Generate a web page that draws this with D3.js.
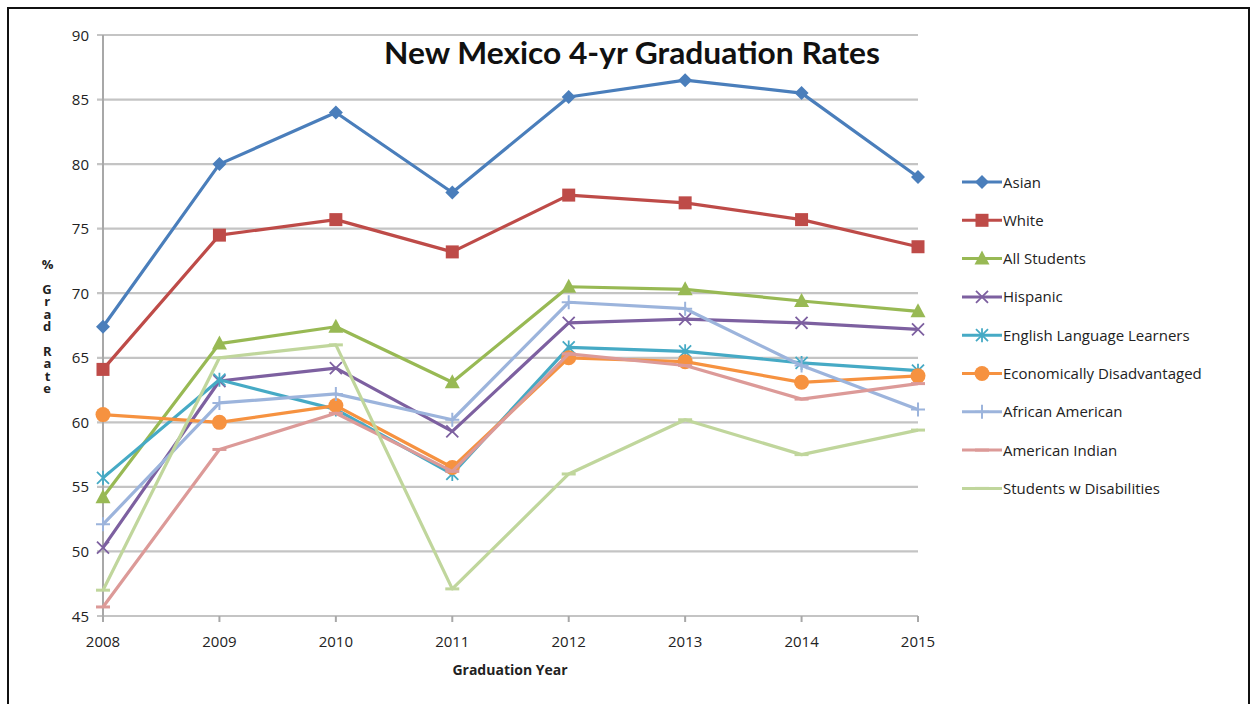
<!DOCTYPE html>
<html><head><meta charset="utf-8">
<script src="https://cdn.jsdelivr.net/npm/d3@7"></script>
<style>body{margin:0;background:#fff;}svg{display:block;}</style>
</head><body><svg id="c" width="1255" height="704"></svg>
<script>
const years = [2008, 2009, 2010, 2011, 2012, 2013, 2014, 2015];
const yTicks = [45, 50, 55, 60, 65, 70, 75, 80, 85, 90];
const seriesNames = ["Asian","White","All Students","Hispanic","English Language Learners","Economically Disadvantaged","African American","American Indian","Students w Disabilities"];
const asian    = [67.4, 80.0, 84.0, 77.8, 85.2, 86.5, 85.5, 79.0];
const white    = [64.1, 74.5, 75.7, 73.2, 77.6, 77.0, 75.7, 73.6];
const allStud  = [54.2, 66.1, 67.4, 63.1, 70.5, 70.3, 69.4, 68.6];
const hispanic = [50.3, 63.2, 64.2, 59.3, 67.7, 68.0, 67.7, 67.2];
const ell      = [55.7, 63.3, 61.0, 56.0, 65.8, 65.5, 64.6, 64.0];
const econ     = [60.6, 60.0, 61.3, 56.5, 65.0, 64.7, 63.1, 63.6];
const afram    = [52.1, 61.5, 62.2, 60.2, 69.3, 68.8, 64.4, 61.0];
const amind    = [45.7, 57.9, 60.7, 56.2, 65.3, 64.4, 61.8, 63.0];
const swd      = [47.0, 65.0, 66.0, 47.1, 56.0, 60.2, 57.5, 59.4];
const seriesValues = [asian, white, allStud, hispanic, ell, econ, afram, amind, swd];
const colors = ["#4A7EBB","#BE4B48","#98B954","#7D60A0","#46AAC5","#F69240","#9CB4DC","#DC9A98","#C0D69C"];
const markers = ["diamond","square","triangle","x","star","circle","plus","dash","dash"];

const svg = d3.select("#c");
const font = "'Open Sans', sans-serif";

svg.append("rect").attr("x",8).attr("y",8).attr("width",1241).attr("height",700)
  .attr("fill","none").attr("stroke","#111").attr("stroke-width",2);

const x = d3.scalePoint().domain(years).range([103, 918]);
const y = d3.scaleLinear().domain([45, 90]).range([616, 35]);

// gridlines
svg.append("g").selectAll("line").data(yTicks).join("line")
  .attr("x1", 97).attr("x2", 918).attr("y1", d=>y(d)).attr("y2", d=>y(d))
  .attr("stroke","#C4C4C4").attr("stroke-width",2.2);

// y axis line
svg.append("line").attr("x1",103).attr("x2",103).attr("y1",y(90)).attr("y2",y(45)+1)
  .attr("stroke","#A8A8A8").attr("stroke-width",2);
// x ticks
svg.append("g").selectAll("line").data(years).join("line")
  .attr("x1", d=>x(d)).attr("x2", d=>x(d)).attr("y1", y(45)).attr("y2", y(45)+6)
  .attr("stroke","#A8A8A8").attr("stroke-width",2);

// y tick labels
svg.append("g").selectAll("text").data(yTicks).join("text")
  .attr("x", 89).attr("y", d=>y(d)+5.5).attr("text-anchor","end")
  .attr("font-family",font).attr("font-size",15).attr("fill","#222").text(d=>d);
// x tick labels
svg.append("g").selectAll("text").data(years).join("text")
  .attr("x", d=>x(d)).attr("y", 647).attr("text-anchor","middle")
  .attr("font-family",font).attr("font-size",15).attr("fill","#222").text(d=>d);

svg.append("text").attr("x",510).attr("y",675).attr("text-anchor","middle")
  .attr("font-family",font).attr("font-size",14).attr("font-weight","bold").attr("fill","#222")
  .text("Graduation Year");

// y axis title, stacked upright letters
svg.append("text").attr("x",47).attr("y",255)
  .attr("writing-mode","vertical-rl").style("text-orientation","upright")
  .attr("font-family",font).attr("font-size",13).attr("font-weight","bold").attr("fill","#222")
  .attr("letter-spacing",-5.6)
  .text("% Grad Rate");

svg.append("text").attr("x",632).attr("y",64).attr("text-anchor","middle")
  .attr("font-family","Lato, 'Open Sans', sans-serif").attr("font-size",31).attr("font-weight","bold").attr("fill","#111")
  .attr("textLength",496).attr("lengthAdjust","spacingAndGlyphs")
  .text("New Mexico 4-yr Graduation Rates");

function drawMarker(g, type, cx, cy, color){
  switch(type){
    case "diamond": g.append("path").attr("d",`M${cx},${cy-7}L${cx+7},${cy}L${cx},${cy+7}L${cx-7},${cy}Z`).attr("fill",color); break;
    case "square": g.append("rect").attr("x",cx-6.5).attr("y",cy-6.5).attr("width",13).attr("height",13).attr("fill",color); break;
    case "triangle": g.append("path").attr("d",`M${cx},${cy-8}L${cx+7.5},${cy+6}L${cx-7.5},${cy+6}Z`).attr("fill",color); break;
    case "circle": g.append("circle").attr("cx",cx).attr("cy",cy).attr("r",7.5).attr("fill",color); break;
    case "x": g.append("path").attr("d",`M${cx-6},${cy-6}L${cx+6},${cy+6}M${cx-6},${cy+6}L${cx+6},${cy-6}`).attr("stroke",color).attr("stroke-width",1.8); break;
    case "star": g.append("path").attr("d",`M${cx-6},${cy-6}L${cx+6},${cy+6}M${cx-6},${cy+6}L${cx+6},${cy-6}M${cx},${cy-7}L${cx},${cy+7}`).attr("stroke",color).attr("stroke-width",1.8); break;
    case "plus": g.append("path").attr("d",`M${cx-7},${cy}L${cx+7},${cy}M${cx},${cy-7}L${cx},${cy+7}`).attr("stroke",color).attr("stroke-width",2); break;
    case "dash": g.append("path").attr("d",`M${cx-7},${cy}L${cx+7},${cy}`).attr("stroke",color).attr("stroke-width",3); break;
  }
}

const line = d3.line().x((d,i)=>x(years[i])).y(d=>y(d));
seriesValues.forEach((vals, si)=>{
  const g = svg.append("g");
  g.append("path").datum(vals).attr("d", line).attr("fill","none")
    .attr("stroke", colors[si]).attr("stroke-width",3.2).attr("stroke-linejoin","round");
  vals.forEach((v,i)=> drawMarker(g, markers[si], x(years[i]), y(v), colors[si]));
});

// legend
const leg = svg.append("g");
seriesNames.forEach((name, i)=>{
  const ly = 182 + i*38.3;
  leg.append("line").attr("x1",962).attr("x2",1002).attr("y1",ly).attr("y2",ly)
    .attr("stroke",colors[i]).attr("stroke-width",3);
  const mg = leg.append("g");
  drawMarker(mg, markers[i], 982, ly, colors[i]);
  leg.append("text").attr("x",1003).attr("y",ly+5.5).attr("font-family",font).attr("font-size",15)
    .attr("fill","#222").text(name);
});
</script></body></html>
